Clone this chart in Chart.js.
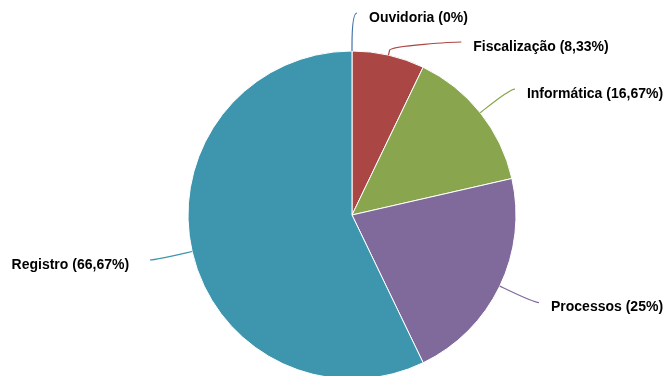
<!DOCTYPE html>
<html>
<head>
<meta charset="utf-8">
<script src="https://cdn.jsdelivr.net/npm/chart.js@4/dist/chart.umd.min.js"></script>
<style>
  html, body { margin: 0; padding: 0; background: #fff; }
  #wrap { width: 666px; height: 376px; position: relative; }
</style>
</head>
<body>
<div id="wrap"><canvas id="pie"></canvas></div>
<script>
const setores = ['Ouvidoria', 'Fiscalização', 'Informática', 'Processos', 'Registro'];
const percentuais = [0, 8.33, 16.67, 25, 66.67];
const cores = ['#4572A7', '#AA4643', '#89A54E', '#80699B', '#3D96AE'];

// labels outside the pie, highcharts-like soft connectors
const rotulos = {
    id: 'rotulos',
    afterDatasetsDraw(chart) {
        const ctx = chart.ctx;
        const arcs = chart.getDatasetMeta(0).data;
        const dist = 38;      // label distance from the pie edge
        const gap = 29;       // min vertical gap between labels
        const items = arcs.map((arc, i) => {
            const a = (arc.startAngle + arc.endAngle) / 2;
            const R = arc.outerRadius + dist;
            return {
                i, a, arc, R,
                left: Math.cos(a) < -1e-9,
                y: arc.y + R * Math.sin(a)
            };
        });

        [true, false].forEach(side => {
            const list = items.filter(it => it.left === side).sort((p, q) => p.y - q.y);
            let last = -Infinity;
            list.forEach(it => {
                const minY = it.arc.y - it.R;
                it.y = Math.max(it.y, minY, last + gap);
                last = it.y;
            });
        });

        ctx.save();
        ctx.font = 'bold 14px "Liberation Sans", Arial, sans-serif';
        ctx.textBaseline = 'middle';
        items.forEach(it => {
            const {arc, a, R} = it;
            const dy = it.y - arc.y;
            const dx = Math.sqrt(Math.max(0, R * R - dy * dy));
            const x = arc.x + (it.left ? -dx : dx);
            const y = it.y;
            const r = arc.outerRadius;
            const ex = arc.x + r * Math.cos(a), ey = arc.y + r * Math.sin(a);
            const bx = arc.x + (r + 5) * Math.cos(a), by = arc.y + (r + 5) * Math.sin(a);
            const cx2 = arc.x + (r + 10) * Math.cos(a), cy2 = arc.y + (r + 10) * Math.sin(a);
            const sx = x + (it.left ? -5 : 5);

            ctx.beginPath();
            ctx.moveTo(sx, y);
            ctx.bezierCurveTo(x, y, cx2, cy2, bx, by);
            ctx.lineTo(ex, ey);
            ctx.strokeStyle = cores[it.i];
            ctx.lineWidth = 1.2;
            ctx.stroke();

            const txt = setores[it.i] + ' (' + String(percentuais[it.i]).replace('.', ',') + '%)';
            ctx.fillStyle = '#000';
            ctx.textAlign = it.left ? 'right' : 'left';
            ctx.fillText(txt, it.left ? sx - 21 : sx + 12, y + 5);
        });
        ctx.restore();
    }
};

new Chart(document.getElementById('pie').getContext('2d'), {
    type: 'pie',
    data: {
        labels: setores,
        datasets: [{
            data: percentuais,
            backgroundColor: cores,
            borderColor: '#fff',
            borderWidth: 1,
            clip: false
        }]
    },
    options: {
        responsive: true,
        maintainAspectRatio: false,
        animation: false,
        radius: 164,
        layout: { padding: { left: 100, right: 62, top: 60, bottom: 6 } },
        plugins: {
            legend: { display: false },
            tooltip: { enabled: false }
        }
    },
    plugins: [rotulos]
});
</script>
</body>
</html>
